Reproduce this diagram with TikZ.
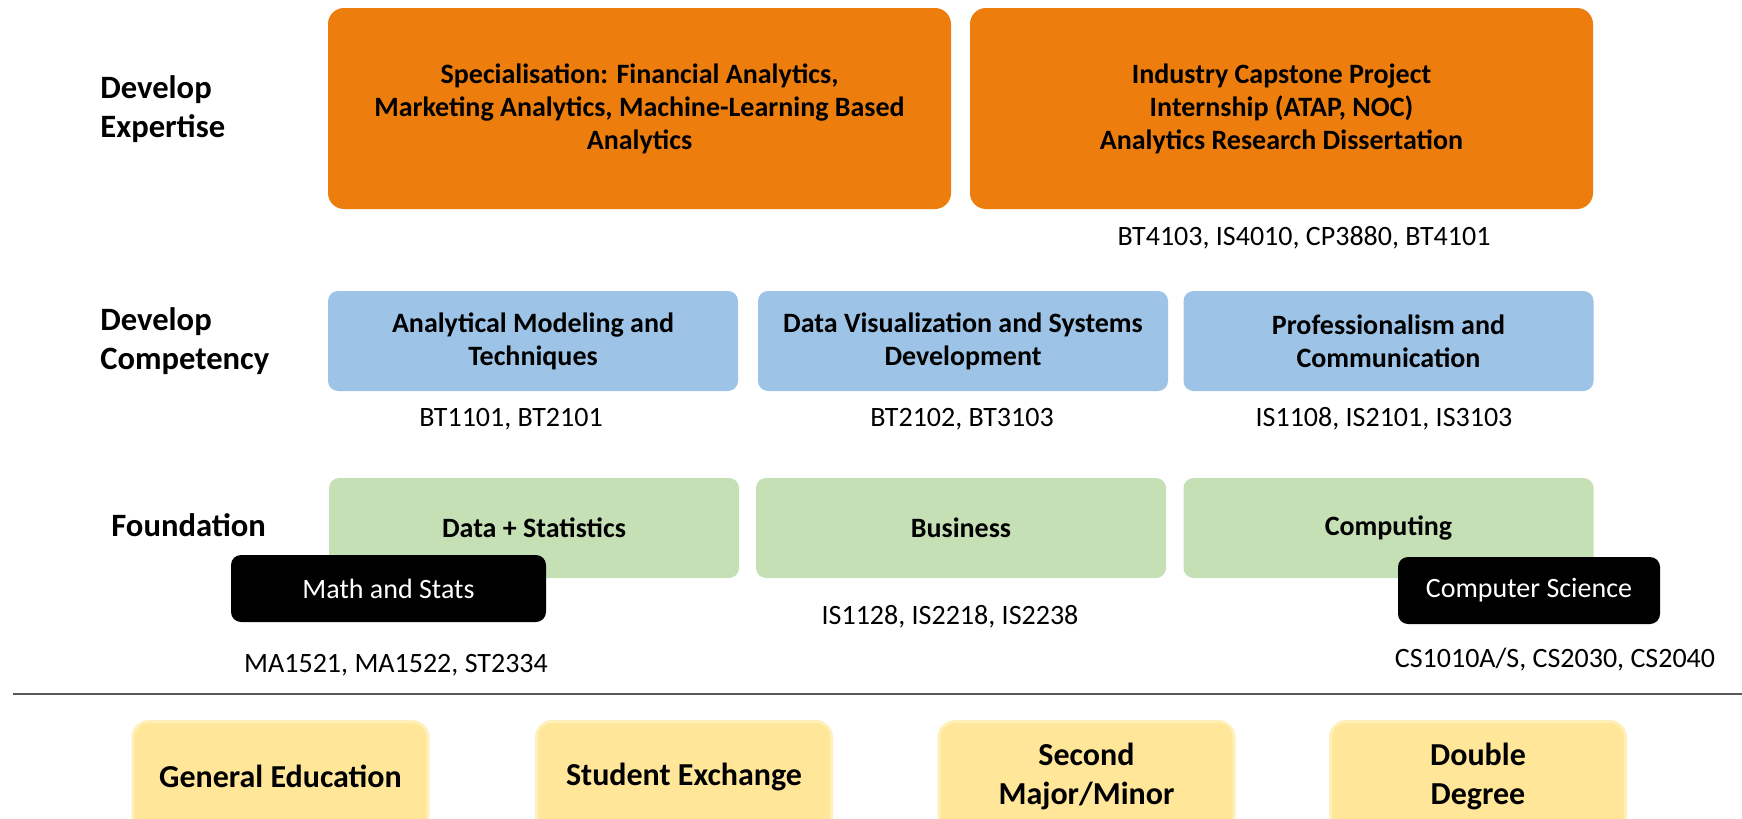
\documentclass[tikz,border=0pt]{standalone}
\usepackage{fontspec}
\setmainfont{Carlito}

\definecolor{expertorange}{RGB}{237,126,14}
\definecolor{skillblue}{RGB}{157,195,230}
\definecolor{basegreen}{RGB}{197,224,180}
\definecolor{optionyellow}{RGB}{255,230,153}
\definecolor{optionedge}{RGB}{255,240,185}
\definecolor{rulegray}{RGB}{89,89,89}

\tikzset{
	layerbox/.style={rounded corners=5pt, inner sep=0pt, align=center, font=\bfseries\fontsize{14}{16.5}\selectfont},
	expertbox/.style={layerbox, fill=expertorange, rounded corners=8pt, minimum width=311.5pt, minimum height=100.5pt},
	skillbox/.style={layerbox, fill=skillblue, minimum width=205pt, minimum height=50pt},
	basebox/.style={layerbox, fill=basegreen, minimum width=205pt, minimum height=50pt},
	trackbox/.style={rounded corners=5pt, fill=black, text=white, inner sep=0pt, minimum height=33.5pt, font=\fontsize{14}{16}\selectfont},
	optionbox/.style={layerbox, fill=optionyellow, draw=optionedge, line width=1.5pt, rounded corners=8pt, anchor=north, minimum width=147.5pt, minimum height=55pt, font=\bfseries\fontsize{16}{19.5}\selectfont},
	rowlabel/.style={anchor=west, align=left, inner sep=0pt, font=\bfseries\fontsize{16.3}{19.5}\selectfont},
	codes/.style={font=\fontsize{14}{16}\selectfont}
}

\begin{document}
\begin{tikzpicture}[x=0.5pt, y=-0.5pt]
	\useasboundingbox (0,0) rectangle (1742,819);
	\clip (0,0) rectangle (1742,819);

	\node[rowlabel] (expertise) at (100,109) {Develop\\Expertise};
	\node[rowlabel] (competency) at (100,341) {Develop\\Competency};
	\node[rowlabel] (foundation) at (111,525) {Foundation};

	\node[expertbox] (special) at (639.5,108.5) {Specialisation: Financial Analytics,\\Marketing Analytics, Machine-Learning Based\\Analytics};
	\node[expertbox] (capstone) at (1281.5,108.5) {Industry Capstone Project\\Internship (ATAP, NOC)\\Analytics Research Dissertation};
	\node[codes] (capstonecodes) at (1304,238) {BT4103, IS4010, CP3880, BT4101};

	\node[skillbox] (modeling) at (533,341) {Analytical Modeling and\\Techniques};
	\node[skillbox] (visual) at (963,341) {Data Visualization and Systems\\Development};
	\node[skillbox] (profession) at (1388.5,341) {Professionalism and\\Communication};
	\node[codes] (modelingcodes) at (511,419) {BT1101, BT2101};
	\node[codes] (visualcodes) at (962,419) {BT2102, BT3103};
	\node[codes] (professioncodes) at (1384,419) {IS1108, IS2101, IS3103};

	\node[basebox] (datastats) at (534,528) {Data + Statistics};
	\node[basebox] (business) at (961,528) {Business};
	\node[basebox] (computing) at (1388.5,528) {Computing};

	\node[trackbox, minimum width=157.5pt] (mathstats) at (388.5,588.5) {Math and Stats};
	\node[trackbox, minimum width=131pt] (compsci) at (1529,590.5) {Computer Science};
	\node[codes] (mathcodes) at (396,665) {MA1521, MA1522, ST2334};
	\node[codes] (businesscodes) at (950,617) {IS1128, IS2218, IS2238};
	\node[codes] (compcodes) at (1555,660) {CS1010A/S, CS2030, CS2040};

	\draw[rulegray, line width=1pt] (13,694) -- (1742,694);

	\node[optionbox] (gened) at (280.5,720) {General Education};
	\node[optionbox] (exchange) at (684,720) {Student Exchange};
	\node[optionbox] (second) at (1086.5,720) {Second\\Major/Minor};
	\node[optionbox] (double) at (1478,720) {Double\\Degree};
\end{tikzpicture}
\end{document}
